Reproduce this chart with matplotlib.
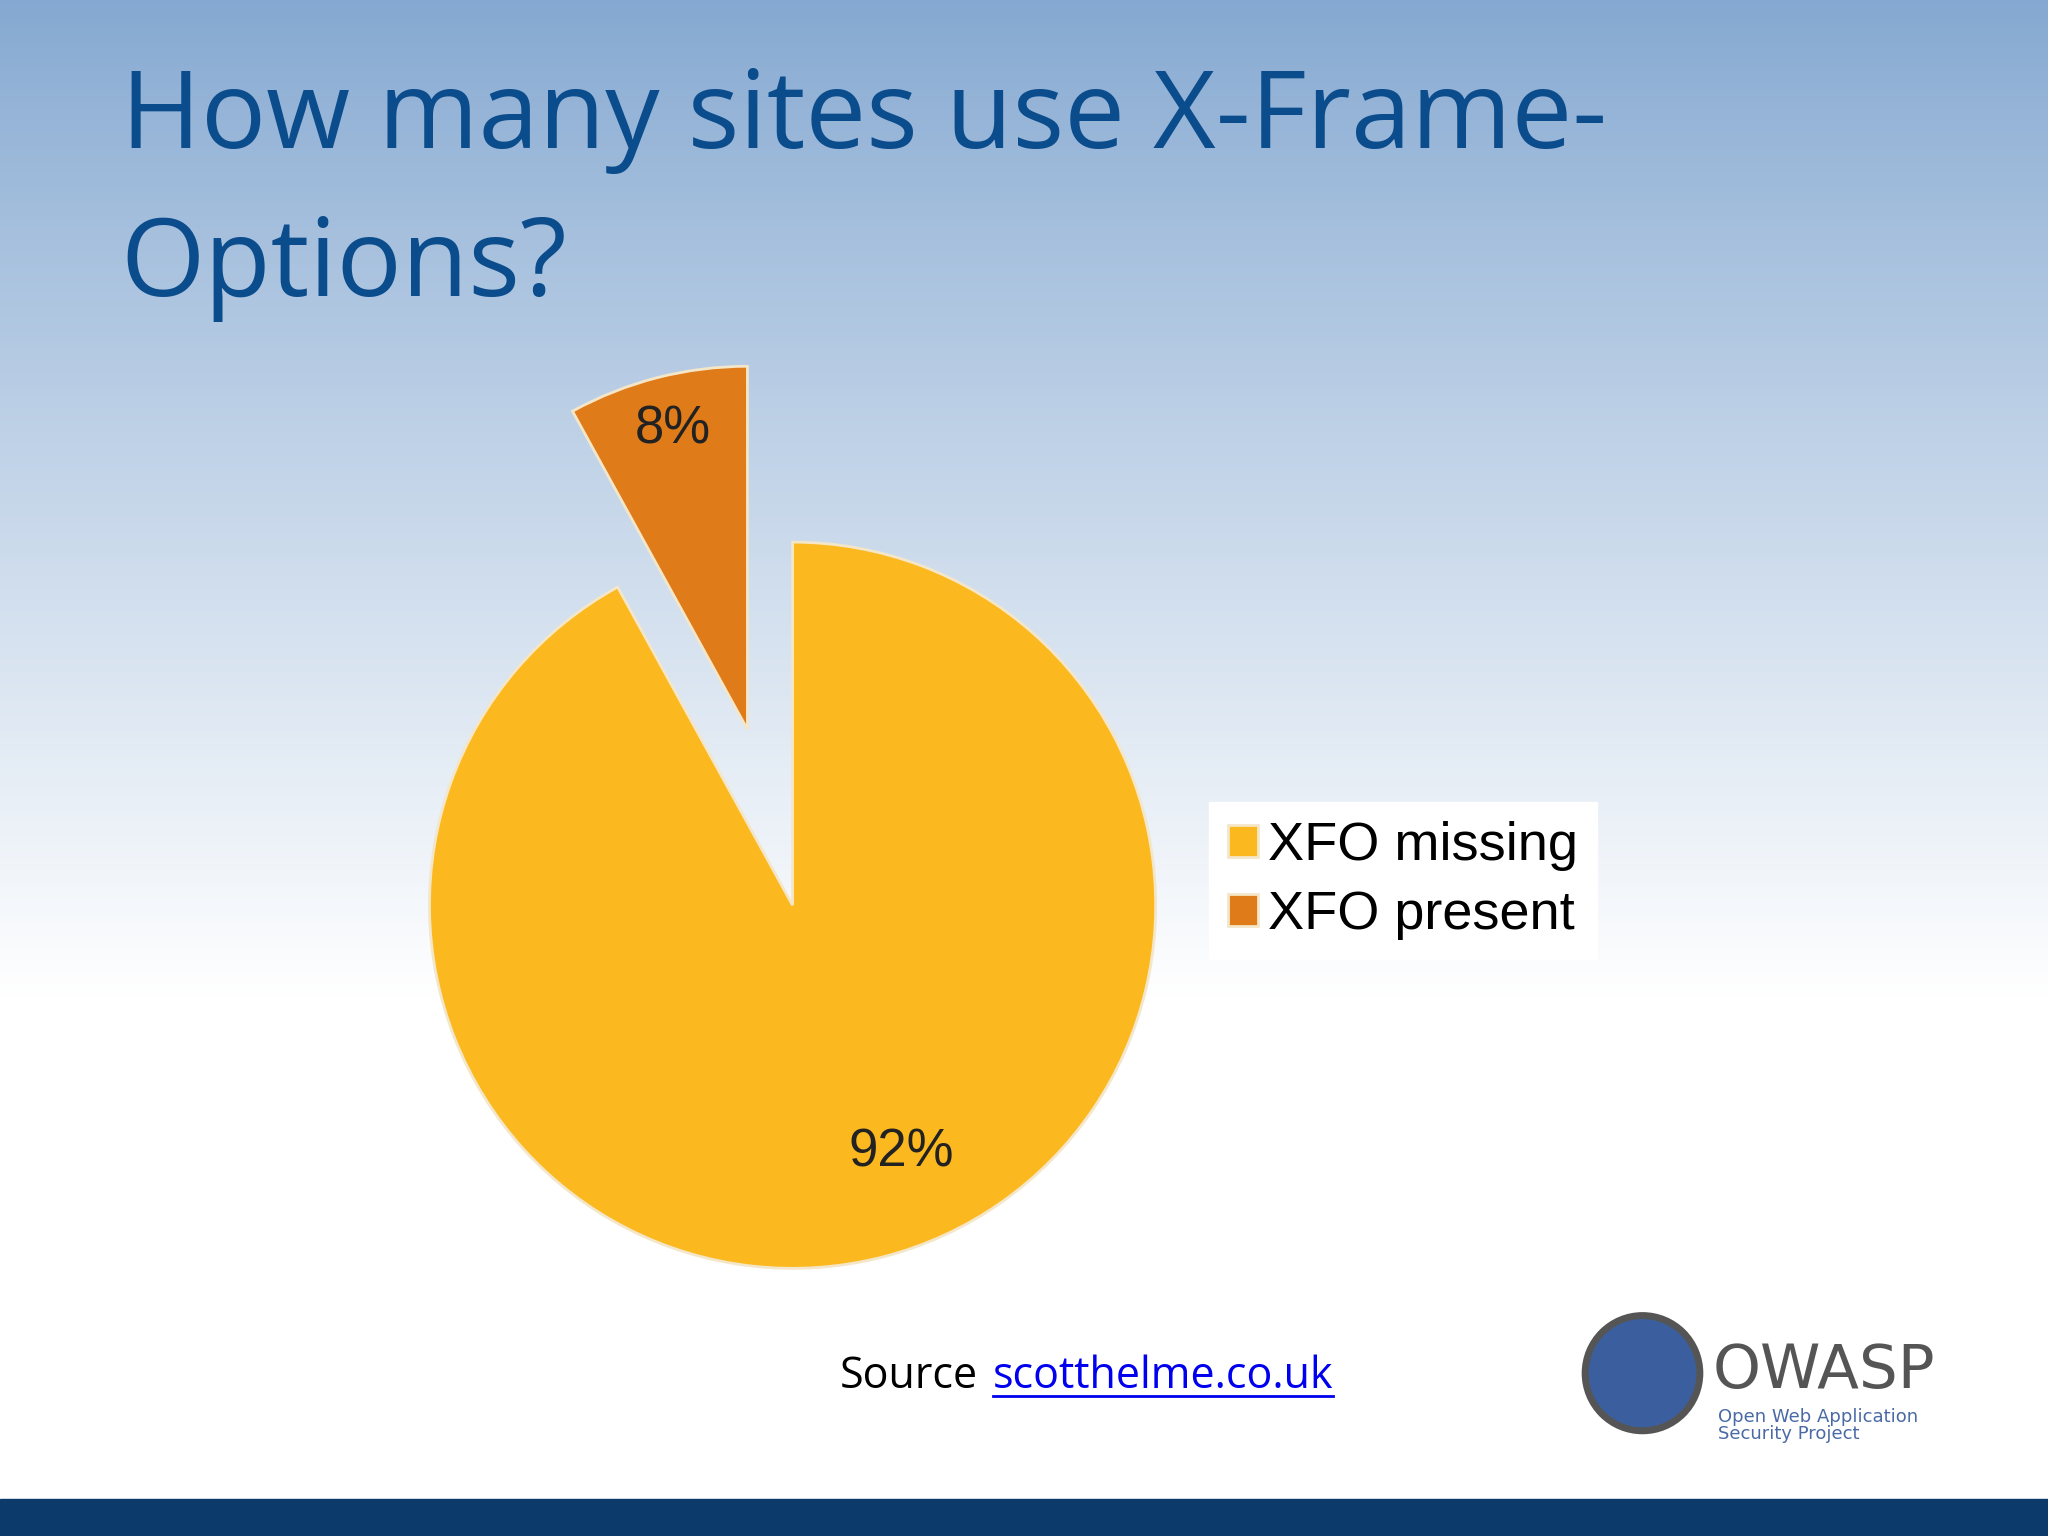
import numpy as np
import matplotlib.pyplot as plt
from matplotlib.patches import Ellipse, Rectangle

labels = ['XFO missing', 'XFO present']
values = [92, 8]
colors = ['#fbb91f', '#e07b1a']

fig = plt.figure(figsize=(20.48, 15.36), dpi=100)

# background gradient
bg = fig.add_axes([0, 0, 1, 1])
grad = np.linspace(0, 1, 256).reshape(-1, 1)
top = np.array([0.52, 0.66, 0.82])
bot = np.array([1.0, 1.0, 1.0])
t = np.clip(grad / 0.65, 0, 1) ** 0.9
img = top * (1 - t) + bot * t
bg.imshow(img.reshape(256, 1, 3), aspect='auto', extent=[0, 1, 0, 1])
bg.add_patch(Rectangle((0, 0), 1, 0.024, color='#0b3a6b'))
bg.set_xlim(0, 1); bg.set_ylim(0, 1); bg.axis('off')

fig.text(0.059, 0.922, 'How many sites use X-Frame-', fontsize=78, color='#0a4c8c',
         family='Open Sans', va='center')
fig.text(0.059, 0.826, 'Options?', fontsize=78, color='#0a4c8c',
         family='Open Sans', va='center')

ax = fig.add_axes([0.187, 0.144, 0.4, 0.5333])
# present drawn first so it starts at 12 o'clock going counter-clockwise
wedges, texts, autotexts = ax.pie(values[::-1], colors=colors[::-1], startangle=90,
                                  explode=[0.5, 0], autopct='%d%%', pctdistance=0.7,
                                  wedgeprops=dict(edgecolor='#f4e6c8', linewidth=2),
                                  textprops=dict(fontsize=38, color='#222222',
                                                 family='Liberation Sans'))
ax.set_xlim(-1.128, 1.128); ax.set_ylim(-1.128, 1.128)
ax.set_aspect('equal')
for w in wedges:
    w.set_clip_on(False)
autotexts[0].set_position((-0.33, 1.31))
autotexts[1].set_position((0.30, -0.68))
for a in autotexts:
    a.set_clip_on(False)

leg = ax.legend([wedges[1], wedges[0]], labels, loc='center left',
                bbox_to_anchor=(0.975, 0.53), frameon=True,
                prop=dict(family='Liberation Sans', size=39),
                fancybox=False, edgecolor='white', handlelength=0.55,
                handleheight=0.55, handletextpad=0.2, labelspacing=0.35,
                borderpad=0.35, framealpha=1)

fig.text(0.41, 0.104, 'Source', fontsize=31, family='Open Sans', va='center')
fig.text(0.485, 0.104, 'scotthelme.co.uk', fontsize=31, family='Open Sans',
         va='center', color='#0000ee')
bg.plot([0.485, 0.651], [0.091, 0.091], color='#0000ee', lw=2)

# OWASP logo approximation
bg.add_patch(Ellipse((0.802, 0.106), 0.056, 0.075, color='#3b5f9e', ec='#555555', lw=5))
fig.text(0.836, 0.107, 'OWASP', fontsize=44, color='#555555', va='center',
         family='DejaVu Sans')
fig.text(0.839, 0.072, 'Open Web Application\nSecurity Project', fontsize=13,
         color='#4a6aa5', va='center', linespacing=0.9)

fig.savefig('out.png', dpi=100)
